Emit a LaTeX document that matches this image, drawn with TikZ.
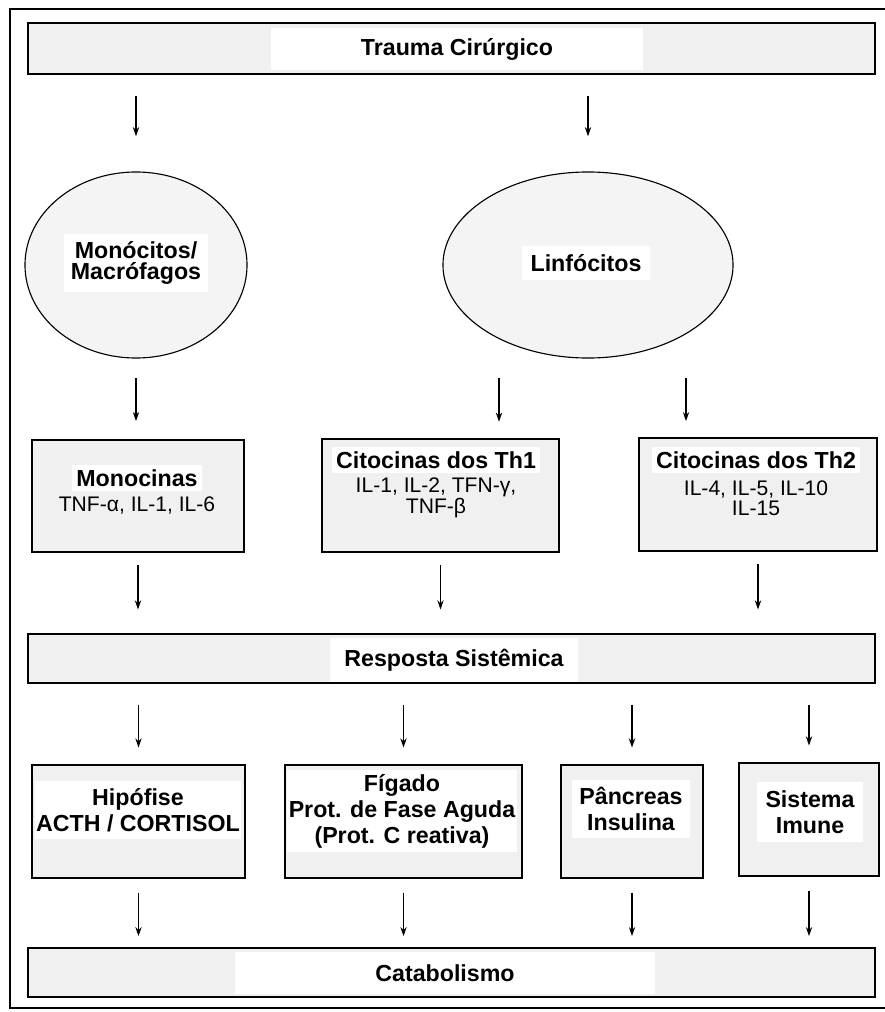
\documentclass[tikz,border=0pt]{standalone}
\usepackage{fontspec}
\setmainfont{Liberation Sans}
\usetikzlibrary{shapes.geometric,arrows.meta}

\begin{document}
\begin{tikzpicture}[x=0.025cm,y=-0.025cm,>={Stealth[length=6.5pt,width=4.5pt]},
    box/.style={draw,line width=0.9pt,fill=gray!12,inner sep=0pt},
    oval/.style={ellipse,draw,line width=0.8pt,fill=gray!9,inner sep=0pt},
    title/.style={font=\bfseries\fontsize{16.5}{18.5}\selectfont,fill=white,align=center,inner sep=3pt},
    plain/.style={font=\fontsize{15}{14.5}\selectfont,align=center,inner sep=1pt},
    arr/.style={->,line width=0.75pt}]
    \useasboundingbox (0,0) rectangle (885,1012);
    \draw[line width=1.1pt] (885,9)--(10,9)--(10,1008)--(885,1008);
    % bars, ellipses and boxes
    \node[box,minimum width=21.175cm,minimum height=1.275cm] (trauma) at (451.5,48.5) {};
    \node[oval,minimum width=5.55cm,minimum height=4.65cm] (mono) at (136,265) {};
    \node[oval,minimum width=7.25cm,minimum height=4.65cm] (linf) at (588,265) {};
    \node[box,minimum width=5.3cm,minimum height=2.8cm] (monoc) at (138,496) {};
    \node[box,minimum width=5.925cm,minimum height=2.825cm] (th1) at (440.5,495.5) {};
    \node[box,minimum width=5.95cm,minimum height=2.825cm] (th2) at (758,494.5) {};
    \node[box,minimum width=21.175cm,minimum height=1.225cm] (resp) at (451.5,658.5) {};
    \node[box,minimum width=5.325cm,minimum height=2.825cm] (hip) at (138.5,821.5) {};
    \node[box,minimum width=5.925cm,minimum height=2.825cm] (fig) at (403.5,821.5) {};
    \node[box,minimum width=3.55cm,minimum height=2.825cm] (pan) at (632,821.5) {};
    \node[box,minimum width=3.5cm,minimum height=2.825cm] (sis) at (809,819.5) {};
    \node[box,minimum width=21.175cm,minimum height=1.225cm] (cat) at (451.5,972.5) {};
    % texts
    \node[title,minimum width=9.3cm,minimum height=1.05cm] (traumatxt) at (457,49) {Trauma Cirúrgico};
    \node[title,font=\bfseries\fontsize{16.5}{15.5}\selectfont,inner sep=5pt] (monotxt) at (136,263) {Monócitos/\\Macrófagos};
    \node[title,inner sep=6pt] (linftxt) at (586,263) {Linfócitos};
    \node[title] (monoctxt) at (137,478) {Monocinas};
    \node[plain] (monocil) at (137,505) {TNF-α, IL-1, IL-6};
    \node[title] (th1txt) at (436,460) {Citocinas dos Th1};
    \node[plain] (th1il) at (436,498) {IL-1, IL-2, TFN-γ,\\TNF-β};
    \node[title] (th2txt) at (756,460) {Citocinas dos Th2};
    \node[plain] (th2il) at (756,498) {IL-4, IL-5, IL-10\\IL-15};
    \node[title,minimum width=6.2cm,minimum height=1.1cm] (resptxt) at (454,660) {Resposta Sistêmica};
    \node[title,inner xsep=1pt,inner ysep=5pt] (hiptxt) at (138,810) {Hipófise\\ACTH / CORTISOL};
    \node[title,inner xsep=1pt] (figtxt) at (402,811) {Fígado\\Prot. de Fase Aguda\\(Prot. C reativa)};
    \node[title,inner sep=5pt] (pantxt) at (631,809) {Pâncreas\\Insulina};
    \node[title,inner sep=6pt] (sistxt) at (810,812) {Sistema\\Imune};
    \node[title,minimum width=10.5cm,minimum height=1.05cm] (cattxt) at (445,973) {Catabolismo};
    % arrows
    \coordinate (a1) at (499,440);
    \coordinate (a2) at (686,438);
    \draw[arr,shorten <=15pt,shorten >=25pt] (trauma.south -| mono) -- (mono.north);
    \draw[arr,shorten <=15pt,shorten >=25pt] (trauma.south -| linf) -- (linf.north);
    \draw[arr,shorten <=14pt,shorten >=13pt] (mono.south) -- (mono.south |- monoc.north);
    \draw[arr,shorten <=14pt,shorten >=13pt] (linf.south -| a1) -- (a1);
    \draw[arr,shorten <=14pt,shorten >=12pt] (linf.south -| a2) -- (a2);
    \draw[arr,shorten <=9pt,shorten >=17pt] (monoc.south) -- (monoc.south |- resp.north);
    \draw[arr,shorten <=9pt,shorten >=17pt] (th1.south) -- (th1.south |- resp.north);
    \draw[arr,shorten <=9pt,shorten >=17pt] (th2.south) -- (th2.south |- resp.north);
    \draw[arr,shorten <=15pt,shorten >=12pt] (resp.south -| hip) -- (hip.north);
    \draw[arr,shorten <=15pt,shorten >=12pt] (resp.south -| fig) -- (fig.north);
    \draw[arr,shorten <=15pt,shorten >=12pt] (resp.south -| pan) -- (pan.north);
    \draw[arr,shorten <=15pt,shorten >=12pt] (resp.south -| sis) -- (sis.north);
    \draw[arr,shorten <=10pt,shorten >=8pt] (hip.south) -- (hip.south |- cat.north);
    \draw[arr,shorten <=10pt,shorten >=8pt] (fig.south) -- (fig.south |- cat.north);
    \draw[arr,shorten <=10pt,shorten >=8pt] (pan.south) -- (pan.south |- cat.north);
    \draw[arr,shorten <=10pt,shorten >=8pt] (sis.south) -- (sis.south |- cat.north);
\end{tikzpicture}
\end{document}
